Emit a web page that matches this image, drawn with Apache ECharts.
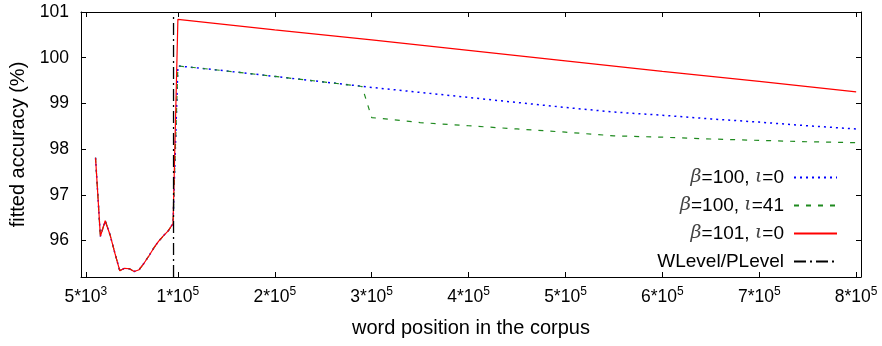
<!DOCTYPE html>
<html><head><meta charset="utf-8">
<script src="https://cdn.jsdelivr.net/npm/echarts@6/dist/echarts.min.js"></script>
<style>html,body{margin:0;padding:0;background:#fff}#c{width:882px;height:346px}</style>
</head><body><div id="c"></div>
<script>
// shared early part (all three fits coincide)
const earlyX = [15000, 20000, 25000, 30000, 35000, 40000, 45000, 50000, 55000, 60000, 65000, 70000, 75000, 80000, 85000, 90000, 95000];
const earlyY = [97.81, 96.09, 96.43, 96.12, 95.72, 95.34, 95.39, 95.38, 95.32, 95.36, 95.50, 95.66, 95.83, 95.98, 96.10, 96.21, 96.37];
// beta=100, iota=0
const blueX = [100000, 150000, 200000, 250000, 300000, 350000, 400000, 450000, 500000, 550000, 600000, 650000, 700000, 750000, 800000];
const blueY = [99.82, 99.71, 99.59, 99.47, 99.35, 99.24, 99.13, 99.02, 98.91, 98.81, 98.74, 98.66, 98.59, 98.51, 98.44];
// beta=100, iota=41
const greenX = [100000, 150000, 200000, 250000, 290000, 300000, 350000, 400000, 450000, 500000, 550000, 600000, 650000, 700000, 750000, 800000];
const greenY = [99.82, 99.71, 99.59, 99.47, 99.37, 98.69, 98.58, 98.51, 98.44, 98.37, 98.29, 98.26, 98.22, 98.19, 98.16, 98.14];
// beta=101, iota=0
const redX = [100000, 200000, 300000, 400000, 500000, 600000, 700000, 800000];
const redY = [100.84, 100.61, 100.39, 100.16, 99.93, 99.70, 99.48, 99.25];
// WLevel/PLevel marker
const levelX = [95500, 95500];
const levelY = [95.2, 101];

const xTicks = [5000, 100000, 200000, 300000, 400000, 500000, 600000, 700000, 800000];
const xTickMant = ['5', '1', '2', '3', '4', '5', '6', '7', '8'];
const xTickExp = ['3', '5', '5', '5', '5', '5', '5', '5', '5'];
const yTicks = [96, 97, 98, 99, 100, 101];
const xMin = 0, xMax = 805000, yMin = 95.2, yMax = 101;

const seriesNames = ['b100i0', 'b100i41', 'b101i0', 'WLevel/PLevel'];
const legendParts = [
  ['β', '=100, ', 'ι', '=0'],
  ['β', '=100, ', 'ι', '=41'],
  ['β', '=101, ', 'ι', '=0'],
  ['', 'WLevel/PLevel', '', '']
];

function zip(xs, ys) { return xs.map((x, i) => [x, ys[i]]); }

const FONT = 'Liberation Sans';
const FS = 17.5;   // tick labels
const FT = 20;     // axis titles
const FL = 19;     // legend

const chart = echarts.init(document.getElementById('c'), null, {renderer: 'canvas'});

const xCommon = {
  type: 'value', min: xMin, max: xMax,
  axisLine: {show: true, onZero: false, lineStyle: {color: '#000', width: 1}},
  axisTick: {show: true, inside: true, length: 5, customValues: xTicks, lineStyle: {color: '#000'}},
  splitLine: {show: false}
};
const yCommon = {
  type: 'value', min: yMin, max: yMax,
  axisLine: {show: true, onZero: false, lineStyle: {color: '#000', width: 1}},
  axisTick: {show: true, inside: true, length: 5, customValues: yTicks, lineStyle: {color: '#000'}},
  splitLine: {show: false}
};

const option = {
  animation: false,
  backgroundColor: '#fff',
  grid: {left: 81, right: 21, top: 12, bottom: 69, containLabel: false, outerBoundsMode: 'none'},
  xAxis: [
    Object.assign({}, xCommon, {
      position: 'bottom',
      name: 'word position in the corpus', nameLocation: 'middle', nameGap: 41,
      nameTextStyle: {fontFamily: FONT, fontSize: FT, color: '#000'},
      axisLabel: {
        show: true, margin: 9, customValues: xTicks, color: '#000',
        formatter: function (v) {
          const i = xTicks.indexOf(v);
          if (i < 0) return '';
          return '{b|' + xTickMant[i] + '*10}{s|' + xTickExp[i] + '}';
        },
        rich: {
          b: {fontFamily: FONT, fontSize: FS, color: '#000', lineHeight: 20, verticalAlign: 'bottom'},
          s: {fontFamily: FONT, fontSize: 12, color: '#000', lineHeight: 20, verticalAlign: 'top', padding: [0, 0, 6, 0]}
        }
      }
    }),
    Object.assign({}, xCommon, {position: 'top', axisLabel: {show: false}})
  ],
  yAxis: [
    Object.assign({}, yCommon, {
      position: 'left',
      name: 'fitted accuracy (%)', nameLocation: 'middle', nameGap: 50,
      nameTextStyle: {fontFamily: FONT, fontSize: FT, color: '#000'},
      axisLabel: {show: true, margin: 12, customValues: yTicks, color: '#000', fontFamily: FONT, fontSize: FS}
    }),
    Object.assign({}, yCommon, {position: 'right', axisLabel: {show: false}})
  ],
  legend: {
    orient: 'vertical', align: 'right', right: 39, top: 163,
    itemWidth: 43, itemHeight: 14, itemGap: 9,
    data: seriesNames,
    itemStyle: {opacity: 0},
    formatter: function (name) {
      const p = legendParts[seriesNames.indexOf(name)];
      let s = '';
      if (p[0]) s += '{g|' + p[0] + '}';
      s += '{t|' + p[1] + '}';
      if (p[2]) s += '{g|' + p[2] + '}';
      if (p[3]) s += '{t|' + p[3] + '}';
      return s + '{sp| }';
    },
    textStyle: {
      color: '#000', fontFamily: FONT, fontSize: FL,
      rich: {
        t: {fontFamily: FONT, fontSize: FL, color: '#000', lineHeight: 20},
        g: {fontFamily: 'DejaVu Serif', fontStyle: 'italic', fontSize: FL, color: '#444', lineHeight: 20},
        sp: {width: 5, fontSize: FL, lineHeight: 20}
      }
    }
  },
  series: [
    {
      name: seriesNames[0], type: 'line', xAxisIndex: 0, yAxisIndex: 0,
      data: zip(earlyX.concat(blueX), earlyY.concat(blueY)),
      symbol: 'none', lineStyle: {color: '#0000ff', width: 1.5, type: [2, 4]}, itemStyle: {color: '#0000ff'}, z: 2
    },
    {
      name: seriesNames[1], type: 'line', xAxisIndex: 0, yAxisIndex: 0,
      data: zip(earlyX.concat(greenX), earlyY.concat(greenY)),
      symbol: 'none', lineStyle: {color: '#1f8a1f', width: 1.2, type: [5, 7]}, itemStyle: {color: '#1f8a1f'}, z: 3
    },
    {
      name: seriesNames[2], type: 'line', xAxisIndex: 0, yAxisIndex: 0,
      data: zip(earlyX.concat(redX), earlyY.concat(redY)),
      symbol: 'none', lineStyle: {color: '#ff0000', width: 1.2, type: 'solid'}, itemStyle: {color: '#ff0000'}, z: 4
    },
    {
      name: seriesNames[3], type: 'line', xAxisIndex: 0, yAxisIndex: 0,
      data: zip(levelX, levelY),
      symbol: 'none', lineStyle: {color: '#000', width: 1.3, type: [12, 4, 2, 4]}, itemStyle: {color: '#000'}, z: 5
    }
  ]
};
chart.setOption(option);
</script>
</body></html>
